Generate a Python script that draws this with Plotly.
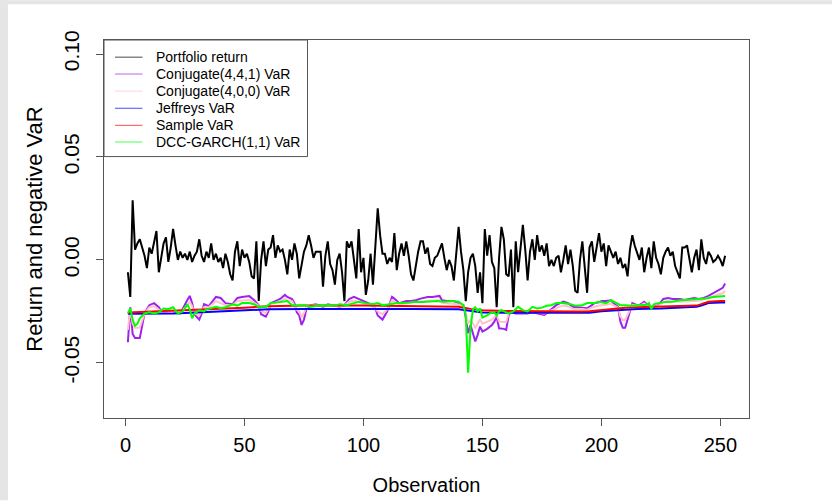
import plotly.graph_objects as go

# ---------------- data ----------------
portfolio_return = [
    -0.006, -0.018, 0.029, 0.005, 0.008, 0.010, 0.006, 0.002, -0.004, 0.006,
    0.003, 0.008, 0.014, -0.006, 0.002, 0.008, 0.011, -0.001, 0.006, 0.015,
    0.007, 0.000, 0.004, 0.001, 0.003, 0.000, 0.004, -0.001, 0.002, 0.004,
    0.010, 0.002, -0.001, 0.004, 0.001, 0.008, 0.000, 0.003, -0.001, 0.001,
    -0.004, 0.003, -0.001, -0.007, -0.010, 0.004, 0.009, -0.003, 0.005, 0.001,
    0.003, -0.001, -0.008, -0.009, 0.009, -0.020, 0.000, 0.009, -0.003, 0.005,
    0.006, 0.012, 0.001, 0.007, 0.004, 0.005, 0.000, -0.007, 0.005, 0.000,
    0.008, 0.003, -0.009, -0.002, 0.004, 0.007, 0.012, 0.007, 0.001, 0.004,
    0.004, 0.004, -0.013, 0.002, 0.009, -0.002, -0.005, -0.012, 0.000, 0.003,
    -0.006, -0.020, 0.009, 0.006, 0.009, 0.001, -0.009, 0.015, -0.006, 0.001,
    -0.017, -0.010, 0.003, -0.012, 0.004, 0.025, 0.012, 0.003, 0.003, -0.002,
    0.001, -0.001, 0.013, -0.005, 0.003, 0.008, 0.002, 0.009, 0.002, -0.007,
    -0.010, -0.002, 0.004, 0.009, 0.009, 0.003, 0.006, -0.002, -0.003, 0.001,
    0.002, 0.005, 0.008, 0.001, -0.005, 0.000, -0.003, -0.010, 0.002, 0.016,
    0.004, -0.005, -0.020, -0.006, 0.001, 0.003, -0.003, -0.016, -0.006, -0.021,
    0.015, 0.002, 0.012, -0.001, -0.004, -0.023, 0.001, 0.016, 0.010, -0.007,
    -0.008, 0.005, -0.023, 0.009, -0.006, 0.005, 0.017, 0.005, -0.010, 0.004,
    0.010, 0.000, 0.012, 0.004, 0.007, 0.002, 0.008, -0.003, 0.000, -0.003,
    0.001, 0.002, -0.006, 0.000, 0.007, -0.002, 0.005, -0.003, -0.015, -0.016,
    0.000, 0.009, -0.003, -0.016, 0.006, 0.009, -0.001, 0.006, 0.013, 0.004,
    0.008, -0.003, 0.007, 0.004, 0.001, 0.004, -0.002, 0.001, -0.004, -0.002,
    -0.008, 0.005, 0.012, 0.007, 0.003, 0.000, 0.006, -0.006, 0.001, 0.006,
    -0.004, 0.009, 0.001, -0.002, -0.007, 0.001, 0.004, 0.006, 0.002, 0.004,
    -0.003, -0.006, -0.009, 0.006, 0.006, 0.007, 0.000, -0.006, 0.001, 0.005,
    -0.005, 0.010, 0.001, -0.002, 0.004, 0.002, -0.001, 0.000, 0.002, 0.000,
    -0.003, 0.002,
]
observation = list(range(1, len(portfolio_return) + 1))

conj441_obs = [1, 2, 3, 4, 6, 7, 8, 10, 12, 14, 15, 18, 21, 23, 26, 27, 28, 29, 31, 32,
               33, 35, 38, 40, 42, 45, 46, 47, 49, 52, 54, 56, 57, 59, 60, 61, 63, 65, 67, 68,
               70, 71, 72, 73, 74, 75, 76, 78, 80, 83, 85, 88, 90, 92, 94, 96, 98, 100, 102, 104,
               105, 106, 108, 110, 112, 113, 115, 118, 120, 122, 124, 127, 129, 132, 133, 135, 138, 140, 142, 143,
               144, 145, 147, 148, 149, 150, 152, 154, 155, 156, 157, 159, 160, 161, 162, 164, 166, 169, 171, 174,
               176, 178, 181, 184, 186, 188, 190, 192, 194, 196, 197, 199, 200, 202, 204, 205, 207, 208, 209, 210,
               211, 212, 213, 215, 216, 218, 220, 222, 224, 226, 228, 230, 232, 233, 235, 237, 239, 241, 243, 245,
               247, 249, 251, 252]
conj441_var = [-0.040, -0.023, -0.036, -0.038, -0.038, -0.032, -0.026, -0.022, -0.021, -0.023,
               -0.025, -0.0255, -0.026, -0.026, -0.0195, -0.0175, -0.021, -0.0265, -0.029, -0.026,
               -0.0215, -0.0225, -0.018, -0.0185, -0.021, -0.0215, -0.020, -0.0185, -0.018, -0.0176,
               -0.0195, -0.022, -0.0264, -0.0276, -0.025, -0.021, -0.020, -0.019, -0.017, -0.018,
               -0.019, -0.021, -0.0255, -0.027, -0.0316, -0.029, -0.024, -0.022, -0.0216, -0.0228,
               -0.0216, -0.0223, -0.0228, -0.022, -0.019, -0.018, -0.019, -0.020, -0.021, -0.0225,
               -0.0236, -0.027, -0.029, -0.025, -0.018, -0.0188, -0.021, -0.020, -0.020, -0.0196,
               -0.0188, -0.018, -0.018, -0.0175, -0.0196, -0.020, -0.020, -0.021, -0.022, -0.028,
               -0.0356, -0.0316, -0.0396, -0.0364, -0.0324, -0.0348, -0.0335, -0.0316, -0.030, -0.0276,
               -0.0332, -0.0335, -0.034, -0.027, -0.0252, -0.026, -0.026, -0.026, -0.0255, -0.026,
               -0.0267, -0.025, -0.022, -0.0203, -0.021, -0.0228, -0.023, -0.023, -0.0235, -0.022,
               -0.021, -0.0206, -0.020, -0.020, -0.0196, -0.021, -0.0228, -0.030, -0.033, -0.033,
               -0.029, -0.025, -0.021, -0.022, -0.022, -0.0203, -0.0225, -0.023, -0.022, -0.019,
               -0.0185, -0.019, -0.019, -0.019, -0.0195, -0.019, -0.0185, -0.019, -0.0185, -0.0175,
               -0.0163, -0.0147, -0.0136, -0.0115]

conj400_obs = [1, 2, 3, 4, 6, 7, 8, 10, 12, 15, 18, 23, 26, 27, 28, 29, 31, 33, 35, 38,
               42, 45, 47, 49, 52, 54, 56, 57, 59, 60, 61, 63, 65, 67, 68, 70, 71, 72, 73, 74,
               75, 76, 78, 80, 83, 85, 88, 90, 92, 94, 96, 98, 100, 102, 104, 106, 108, 110, 112, 115,
               118, 122, 124, 127, 129, 132, 133, 135, 138, 140, 142, 143, 144, 145, 147, 148, 149, 150, 152, 154,
               155, 156, 157, 159, 160, 161, 162, 166, 171, 176, 178, 181, 184, 186, 188, 192, 194, 196, 199, 202,
               204, 205, 207, 208, 209, 210, 211, 212, 213, 216, 218, 220, 222, 224, 226, 228, 233, 237, 241, 243,
               245, 247, 249, 251, 252]
conj400_var = [-0.034, -0.024, -0.031, -0.033, -0.033, -0.029, -0.026, -0.023, -0.0225, -0.025,
               -0.0253, -0.0257, -0.022, -0.0205, -0.0225, -0.026, -0.027, -0.023, -0.023, -0.020,
               -0.022, -0.022, -0.020, -0.0198, -0.0195, -0.0208, -0.0222, -0.0248, -0.0258, -0.024,
               -0.0215, -0.0208, -0.020, -0.0188, -0.0196, -0.020, -0.022, -0.0242, -0.025, -0.0278,
               -0.026, -0.023, -0.022, -0.0218, -0.0226, -0.0218, -0.0222, -0.0226, -0.0221, -0.0203,
               -0.0197, -0.0203, -0.021, -0.0215, -0.0223, -0.0251, -0.0264, -0.024, -0.0197, -0.0215,
               -0.021, -0.0207, -0.0202, -0.0198, -0.0198, -0.0196, -0.0208, -0.0211, -0.0212, -0.0217,
               -0.0223, -0.026, -0.031, -0.029, -0.033, -0.031, -0.029, -0.031, -0.030, -0.029,
               -0.0278, -0.0266, -0.030, -0.030, -0.0303, -0.026, -0.0251, -0.0256, -0.0253, -0.026,
               -0.025, -0.0232, -0.022, -0.0226, -0.0237, -0.0239, -0.0242, -0.0232, -0.0222, -0.0218,
               -0.0212, -0.022, -0.0232, -0.0275, -0.0292, -0.0292, -0.0267, -0.0243, -0.0219, -0.0224,
               -0.0212, -0.0228, -0.0231, -0.0223, -0.0204, -0.020, -0.0203, -0.0201, -0.0198, -0.0191,
               -0.0185, -0.0177, -0.0168, -0.0162, -0.015]

jeffreys_obs = [1, 10, 20, 30, 40, 50, 60, 75, 100, 120, 140, 145, 150, 160, 180, 195, 200, 205, 210, 215,
                225, 235, 240, 242, 245, 250, 252]
jeffreys_var = [-0.0262, -0.0262, -0.026, -0.0255, -0.025, -0.0245, -0.024, -0.0238, -0.0237, -0.0238,
                -0.024, -0.0248, -0.0255, -0.0257, -0.0258, -0.0257, -0.025, -0.0245, -0.024, -0.0238,
                -0.0236, -0.0232, -0.0228, -0.0222, -0.021, -0.0207, -0.0207]

sample_obs = [1, 10, 20, 30, 40, 50, 60, 75, 100, 120, 140, 145, 150, 160, 170, 180, 190, 195, 200, 205,
              210, 215, 225, 235, 240, 242, 245, 250, 252]
sample_var = [-0.0256, -0.0252, -0.0248, -0.0243, -0.0238, -0.0232, -0.0225, -0.0222, -0.0222, -0.0224,
              -0.0228, -0.0238, -0.0245, -0.0248, -0.025, -0.025, -0.0251, -0.025, -0.0244, -0.0238,
              -0.0233, -0.023, -0.0228, -0.0225, -0.0222, -0.0215, -0.0203, -0.020, -0.020]

dcc_obs = [1, 2, 3, 4, 5, 6, 8, 10, 12, 14, 16, 18, 20, 22, 24, 25, 26, 27, 28, 29,
           31, 33, 34, 36, 38, 40, 42, 45, 47, 49, 52, 54, 56, 59, 61, 65, 68, 70, 72, 75,
           78, 82, 85, 88, 90, 93, 96, 98, 101, 104, 106, 108, 111, 114, 117, 120, 122, 125, 128, 131,
           134, 137, 140, 141, 142, 143, 144, 145, 146, 147, 148, 149, 150, 152, 153, 155, 156, 157, 158, 160,
           161, 163, 165, 167, 169, 171, 173, 175, 177, 179, 181, 184, 187, 189, 192, 194, 197, 199, 202, 204,
           206, 208, 210, 213, 216, 219, 220, 221, 222, 224, 227, 230, 233, 236, 239, 242, 244, 247, 250, 252]
dcc_var = [-0.026, -0.0235, -0.029, -0.032, -0.031, -0.0284, -0.026, -0.0255, -0.026, -0.0255,
           -0.0236, -0.024, -0.023, -0.026, -0.025, -0.0236, -0.0216, -0.024, -0.0284, -0.026,
           -0.0245, -0.025, -0.024, -0.0235, -0.0228, -0.0235, -0.023, -0.0216, -0.0222, -0.021,
           -0.021, -0.0215, -0.0228, -0.0228, -0.021, -0.0205, -0.020, -0.022, -0.0222, -0.022,
           -0.0228, -0.022, -0.0222, -0.0222, -0.0215, -0.022, -0.021, -0.0203, -0.021, -0.0215,
           -0.021, -0.022, -0.0215, -0.021, -0.021, -0.0205, -0.0203, -0.0205, -0.0203, -0.020,
           -0.0203, -0.020, -0.0203, -0.021, -0.022, -0.0268, -0.0548, -0.0332, -0.024, -0.023,
           -0.025, -0.0235, -0.028, -0.027, -0.026, -0.0255, -0.0271, -0.025, -0.0244, -0.0255,
           -0.026, -0.025, -0.0228, -0.0244, -0.025, -0.0228, -0.0236, -0.0232, -0.0223, -0.022,
           -0.021, -0.021, -0.0215, -0.0223, -0.022, -0.021, -0.021, -0.0203, -0.021, -0.0196,
           -0.021, -0.022, -0.022, -0.0223, -0.022, -0.0218, -0.021, -0.0239, -0.0216, -0.021,
           -0.0205, -0.0203, -0.0196, -0.0193, -0.0193, -0.019, -0.0188, -0.018, -0.0177, -0.0175]

series_names = ["Portfolio return", "Conjugate(4,4,1) VaR", "Conjugate(4,0,0) VaR",
                "Jeffreys VaR", "Sample VaR", "DCC-GARCH(1,1) VaR"]
series_colors = ["#000000", "#A020F0", "#FFC0CB", "#0000FF", "#FF0000", "#00FF00"]

x_ticks = [0, 50, 100, 150, 200, 250]
y_ticks = [-0.05, 0.0, 0.05, 0.10]
y_tick_labels = ["-0.05", "0.00", "0.05", "0.10"]

# ---------------- figure ----------------
FONT = "Liberation Sans, Arial, sans-serif"
AXC = "#555555"
fig = go.Figure()

data_pairs = [
    (observation, portfolio_return),
    (conj441_obs, conj441_var),
    (conj400_obs, conj400_var),
    (jeffreys_obs, jeffreys_var),
    (sample_obs, sample_var),
    (dcc_obs, dcc_var),
]
for (xs, ys), name, col in zip(data_pairs, series_names, series_colors):
    fig.add_trace(go.Scatter(x=xs, y=ys, mode="lines", name=name, showlegend=False,
                             line=dict(color=col, width=2)))

W, H = 832, 504
L, R, T, B = 104, 83, 40, 83
pw, ph = W - L - R, H - T - B


def px(xpix):
    return (xpix - L) / pw


def py(ypix):
    return (H - B - ypix) / ph


shapes = [
    # grey page frame strips (left and top)
    dict(type="rect", xref="paper", yref="paper", x0=px(0), x1=px(8), y0=py(H), y1=py(0),
         fillcolor="#e5e5e5", line=dict(width=0), layer="below"),
    dict(type="rect", xref="paper", yref="paper", x0=px(0), x1=px(W), y0=py(4), y1=py(0),
         fillcolor="#e5e5e5", line=dict(width=0), layer="below"),
    # legend box
    dict(type="rect", xref="paper", yref="paper", x0=0, x1=px(307.5), y0=py(157.5), y1=1,
         fillcolor="white", line=dict(color=AXC, width=1), layer="above"),
]
annotations = []
legend_rows = [57.3, 74.3, 91.5, 108.8, 126.0, 142.8]
for name, col, ry in zip(series_names, series_colors, legend_rows):
    shapes.append(dict(type="line", xref="paper", yref="paper", x0=px(115), x1=px(142.5),
                       y0=py(ry), y1=py(ry), line=dict(color=col, width=1), opacity=0.7,
                       layer="above"))
    annotations.append(dict(text=name, xref="paper", yref="paper", x=px(154), y=py(ry),
                            xanchor="left", yanchor="middle", showarrow=False,
                            font=dict(size=14, family=FONT, color="black")))

fig.update_layout(
    width=W, height=H,
    margin=dict(l=L, r=R, t=T, b=B, pad=0),
    paper_bgcolor="white", plot_bgcolor="white",
    font=dict(family=FONT, color="black"),
    showlegend=False,
    xaxis=dict(range=[-9.04, 262.04], tickvals=x_ticks, ticks="outside", ticklen=7,
               tickcolor=AXC, showline=True, linecolor=AXC, mirror=True,
               showgrid=False, zeroline=False, tickfont=dict(size=20),
               ticklabelstandoff=2,
               title=dict(text="Observation", font=dict(size=20), standoff=22)),
    yaxis=dict(range=[-0.0768, 0.1068], tickvals=y_ticks, ticktext=y_tick_labels,
               ticks="outside", ticklen=7, tickcolor=AXC, showline=True,
               linecolor=AXC, mirror=True, showgrid=False, zeroline=False,
               tickangle=-90, tickfont=dict(size=21), ticklabelstandoff=9,
               title=dict(text="Return and negative VaR", font=dict(size=22), standoff=10)),
    shapes=shapes,
    annotations=annotations,
)

fig.write_html("out.html", config={"displayModeBar": False},
               post_script="document.body.style.margin='0px';")
